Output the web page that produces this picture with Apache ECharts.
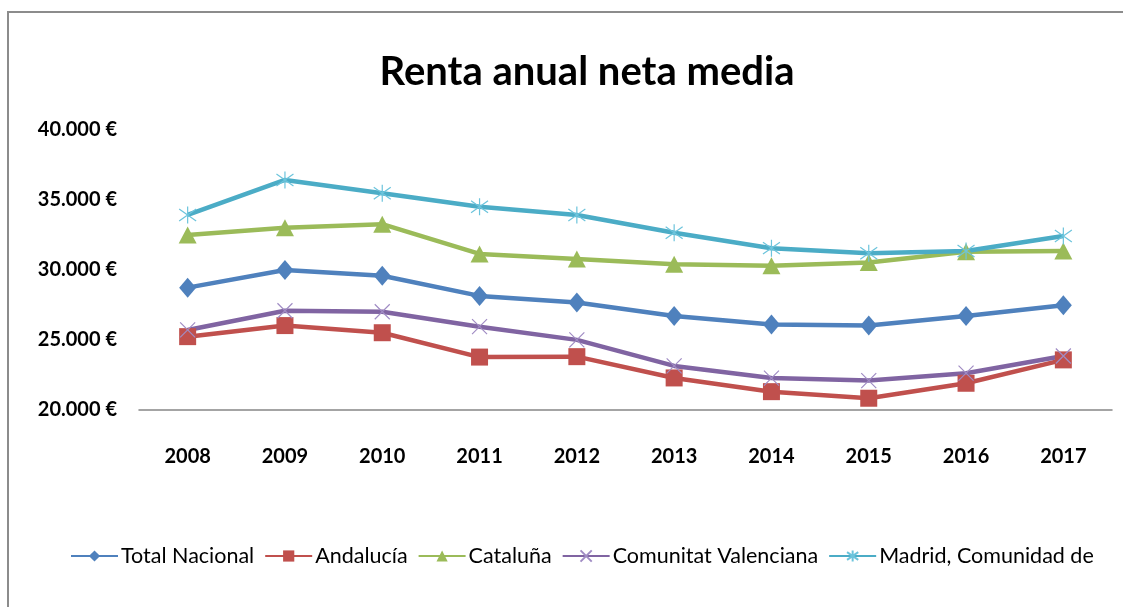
<!DOCTYPE html>
<html>
<head>
<meta charset="utf-8">
<script src="https://cdn.jsdelivr.net/npm/echarts@6/dist/echarts.min.js"></script>
<style>
  html, body { margin: 0; padding: 0; background: #fff; overflow: hidden; }
  #chart { width: 1123px; height: 607px; }
</style>
</head>
<body>
<div id="chart"></div>
<script>
  // años
  const years = ['2008', '2009', '2010', '2011', '2012', '2013', '2014', '2015', '2016', '2017'];
  // renta anual neta media (€)
  const totalNacional = [28740, 30000, 29590, 28150, 27680, 26720, 26100, 26040, 26710, 27480];
  const andalucia = [25240, 26030, 25520, 23780, 23810, 22290, 21310, 20840, 21910, 23580];
  const cataluna = [32500, 33020, 33270, 31150, 30790, 30410, 30300, 30530, 31300, 31350];
  const comunitatValenciana = [25720, 27090, 27020, 25950, 25010, 23150, 22280, 22100, 22630, 23860];
  const madrid = [33930, 36430, 35480, 34520, 33930, 32660, 31560, 31200, 31360, 32430];

  const chart = echarts.init(document.getElementById('chart'));

  const xMark = 'path://M0,0L10,10M10,0L0,10';
  const starMark = 'path://M5,0L5,10M0,1.5L10,8.5M10,1.5L0,8.5';

  function line(name, data, color, symbol, size, extra) {
    return Object.assign({
      name: name,
      type: 'line',
      data: data,
      symbol: symbol,
      symbolSize: size,
      lineStyle: { width: 4.5, color: color },
      itemStyle: { color: color },
      emphasis: { disabled: true }
    }, extra || {});
  }

  chart.setOption({
    animation: false,
    textStyle: { fontFamily: 'Lato' },
    // marco del gráfico (solo lados izquierdo y superior visibles)
    graphic: [
      { type: 'polyline', shape: { points: [[8, 607], [8, 12], [1123, 12]] }, style: { stroke: '#8c8c8c', lineWidth: 2, fill: null } }
    ],
    title: {
      text: 'Renta anual neta media',
      left: 582,
      top: 47,
      textAlign: 'center',
      textStyle: { fontFamily: 'Lato', fontWeight: 'bold', fontSize: 40, color: '#000' }
    },
    legend: {
      left: 65,
      top: 540,
      itemWidth: 47,
      itemHeight: 14,
      itemGap: 10,
      textStyle: { fontFamily: 'Lato', fontSize: 21.5, color: '#000', padding: [0, 0, 0, -2] },
      data: ['Total Nacional', 'Andalucía', 'Cataluña', 'Comunitat Valenciana', 'Madrid, Comunidad de']
    },
    grid: { left: 139, right: 11, top: 130, bottom: 197, containLabel: false },
    xAxis: {
      type: 'category',
      data: years,
      boundaryGap: true,
      axisLine: { lineStyle: { color: '#868686', width: 1.5 } },
      axisTick: { show: false },
      axisLabel: { margin: 37, fontFamily: 'Lato', fontWeight: 'bold', fontSize: 20, color: '#000' }
    },
    yAxis: {
      type: 'value',
      min: 20000,
      max: 40000,
      interval: 5000,
      splitLine: { show: false },
      axisLine: { show: false },
      axisTick: { show: false },
      axisLabel: {
        margin: 22,
        fontFamily: 'Lato',
        fontWeight: 'bold',
        fontSize: 20,
        color: '#000',
        formatter: function (v) {
          return v.toLocaleString('de-DE') + ' €';
        }
      }
    },
    series: [
      line('Total Nacional', totalNacional, '#4F81BD', 'diamond', [17, 20]),
      line('Andalucía', andalucia, '#C0504D', 'rect', 17),
      line('Cataluña', cataluna, '#9BBB59', 'triangle', [18, 17]),
      line('Comunitat Valenciana', comunitatValenciana, '#8064A2', xMark, 15, {
        itemStyle: { color: 'rgba(0,0,0,0)', borderColor: '#a08cc4', borderWidth: 1.2 }
      }),
      line('Madrid, Comunidad de', madrid, '#4BACC6', starMark, 17, {
        itemStyle: { color: 'rgba(0,0,0,0)', borderColor: '#6cc4dc', borderWidth: 1.2 }
      })
    ]
  });
</script>
</body>
</html>
